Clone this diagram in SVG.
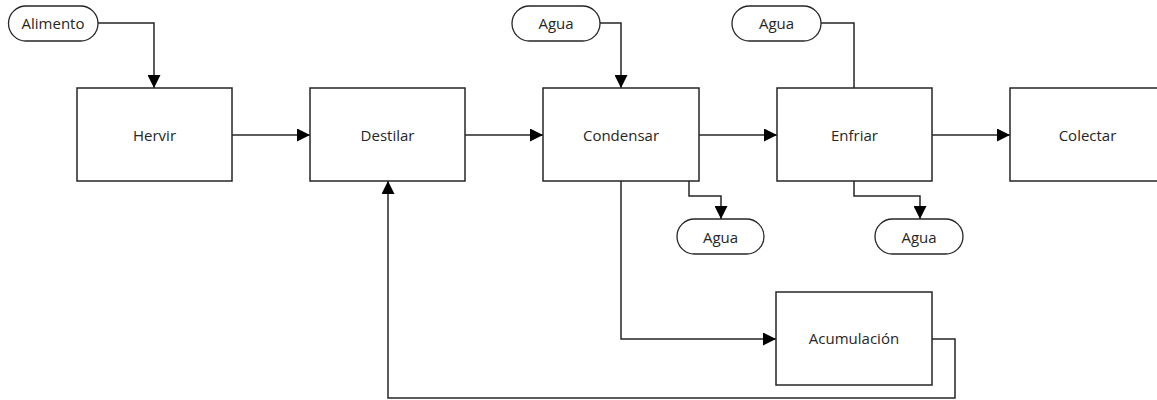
<svg xmlns="http://www.w3.org/2000/svg" width="1157" height="400" viewBox="0 0 1157 400">
  <style>
    .box { fill: #ffffff; stroke: #262626; stroke-width: 1.5; }
    .term { fill: #ffffff; stroke: #262626; stroke-width: 1.3; }
    .lbl { font-family: "Open Sans", "DejaVu Sans", sans-serif; font-size: 15px; fill: #262626; text-anchor: middle; dominant-baseline: central; }
    .wire { fill: none; stroke: #262626; stroke-width: 1.5; }
  </style>
  <defs>
    <marker id="arrow" markerUnits="userSpaceOnUse" markerWidth="13" markerHeight="13" refX="13" refY="6.5" orient="auto">
      <path d="M0,0 L13,6.5 L0,13 z" fill="#000000"/>
    </marker>
  </defs>
  <rect width="1157" height="400" fill="#ffffff"/>

  <!-- connectors -->
  <g id="connectors">
    <path class="wire" d="M98,23 H154 V88" marker-end="url(#arrow)"/>
    <path class="wire" d="M232,135 H310" marker-end="url(#arrow)"/>
    <path class="wire" d="M465,135 H543" marker-end="url(#arrow)"/>
    <path class="wire" d="M600,23 H621 V88" marker-end="url(#arrow)"/>
    <path class="wire" d="M699,135 H777" marker-end="url(#arrow)"/>
    <path class="wire" d="M821,23 H854 V88"/>
    <path class="wire" d="M932,135 H1010" marker-end="url(#arrow)"/>
    <path class="wire" d="M689,181 V196 H721 V219" marker-end="url(#arrow)"/>
    <path class="wire" d="M854,181 V196 H920 V219" marker-end="url(#arrow)"/>
    <path class="wire" d="M621,181 V339 H776" marker-end="url(#arrow)"/>
    <path class="wire" d="M932,339 H955 V398 H388 V181" marker-end="url(#arrow)"/>
  </g>

  <!-- inputs and outputs -->
  <g id="alimento">
    <rect class="term" x="8.5" y="6" width="89.5" height="35" rx="17.5"/>
    <text class="lbl" x="53" y="23">Alimento</text>
  </g>
  <g id="agua-in-1">
    <rect class="term" x="512" y="6" width="88" height="35" rx="17.5"/>
    <text class="lbl" x="556" y="23">Agua</text>
  </g>
  <g id="agua-in-2">
    <rect class="term" x="732" y="6" width="89" height="35" rx="17.5"/>
    <text class="lbl" x="776.5" y="23">Agua</text>
  </g>
  <g id="agua-out-1">
    <rect class="term" x="677" y="219" width="87" height="35" rx="17.5"/>
    <text class="lbl" x="720.5" y="236.5">Agua</text>
  </g>
  <g id="agua-out-2">
    <rect class="term" x="875" y="219" width="88" height="35" rx="17.5"/>
    <text class="lbl" x="919" y="236.5">Agua</text>
  </g>

  <!-- process steps -->
  <g id="hervir">
    <rect class="box" x="77" y="88" width="155" height="93"/>
    <text class="lbl" x="154.5" y="134.5">Hervir</text>
  </g>
  <g id="destilar">
    <rect class="box" x="310" y="88" width="155" height="93"/>
    <text class="lbl" x="387.5" y="134.5">Destilar</text>
  </g>
  <g id="condensar">
    <rect class="box" x="543" y="88" width="156" height="93"/>
    <text class="lbl" x="621" y="134.5">Condensar</text>
  </g>
  <g id="enfriar">
    <rect class="box" x="777" y="88" width="155" height="93"/>
    <text class="lbl" x="854.5" y="134.5">Enfriar</text>
  </g>
  <g id="colectar">
    <rect class="box" x="1010" y="88" width="155" height="93"/>
    <text class="lbl" x="1087.5" y="134.5">Colectar</text>
  </g>
  <g id="acumulacion">
    <rect class="box" x="776" y="292" width="156" height="93"/>
    <text class="lbl" x="854" y="337.5">Acumulación</text>
  </g>
</svg>
